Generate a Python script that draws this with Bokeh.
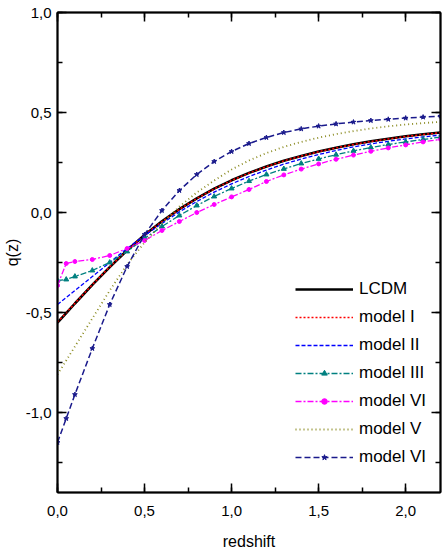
from bokeh.plotting import figure
from bokeh.embed import file_html
from bokeh.resources import INLINE
from bokeh.models import (LinearAxis, SingleIntervalTicker, CustomJSTickFormatter,
                          Legend, LegendItem, Range1d)

# ---- data ----
z = [0.0, 0.05, 0.1, 0.2, 0.3, 0.4, 0.5, 0.6, 0.7, 0.8, 0.9, 1.0, 1.1, 1.2,
     1.3, 1.4, 1.5, 1.6, 1.7, 1.8, 1.9, 2.0, 2.1, 2.2]

q_lcdm = [-0.550, -0.503, -0.455, -0.362, -0.273, -0.189, -0.113, -0.044, 0.017,
          0.071, 0.119, 0.161, 0.198, 0.230, 0.259, 0.283, 0.305, 0.324, 0.341,
          0.356, 0.369, 0.381, 0.391, 0.400]
q_model1 = [-0.548, -0.501, -0.454, -0.361, -0.272, -0.189, -0.113, -0.045, 0.016,
            0.070, 0.118, 0.160, 0.197, 0.229, 0.258, 0.282, 0.304, 0.323, 0.340,
            0.355, 0.368, 0.380, 0.390, 0.399]
q_model2 = [-0.460, -0.425, -0.390, -0.320, -0.250, -0.180, -0.115, -0.055, 0.003,
            0.055, 0.102, 0.143, 0.180, 0.212, 0.242, 0.267, 0.290, 0.310, 0.328,
            0.343, 0.356, 0.368, 0.378, 0.387]
q_model3 = [-0.340, -0.335, -0.320, -0.290, -0.250, -0.195, -0.130, -0.070, -0.015,
            0.035, 0.080, 0.120, 0.157, 0.190, 0.218, 0.245, 0.268, 0.289, 0.308,
            0.325, 0.340, 0.353, 0.365, 0.377]
q_model4 = [-0.365, -0.255, -0.245, -0.235, -0.215, -0.180, -0.140, -0.090, -0.045,
            0.000, 0.040, 0.078, 0.115, 0.155, 0.188, 0.217, 0.243, 0.266, 0.287,
            0.306, 0.323, 0.338, 0.353, 0.366]
q_model5 = [-0.810, -0.740, -0.670, -0.530, -0.390, -0.260, -0.150, -0.055, 0.030,
            0.100, 0.160, 0.215, 0.260, 0.297, 0.328, 0.353, 0.374, 0.392, 0.407,
            0.420, 0.431, 0.440, 0.447, 0.453]
q_model6 = [-1.150, -1.030, -0.910, -0.680, -0.460, -0.270, -0.110, 0.010, 0.110,
            0.190, 0.255, 0.305, 0.345, 0.375, 0.400, 0.418, 0.432, 0.443, 0.452,
            0.460, 0.466, 0.472, 0.477, 0.482]

labels = ["LCDM", "model I", "model II", "model III", "model VI", "model V", "model VI"]
x_title = "redshift"
y_title = "q(z)"

FONT = "Liberation Sans"

p = figure(width=443, height=554, x_range=Range1d(0, 2.2), y_range=Range1d(-1.4, 1.0),
           output_backend="svg", toolbar_location=None,
           min_border_left=57, min_border_right=3, min_border_top=12, min_border_bottom=62)
p.xgrid.visible = False
p.ygrid.visible = False
p.outline_line_color = "black"
p.outline_line_width = 1.5
p.background_fill_color = "white"
p.border_fill_color = "white"

fmt = CustomJSTickFormatter(code="return tick.toFixed(1).replace('.', ',');")
blank = CustomJSTickFormatter(code="return '';")


def style_axis(ax, labelled):
    ax.ticker = SingleIntervalTicker(interval=0.5, num_minor_ticks=2)
    ax.axis_line_width = 2
    ax.axis_line_color = "black"
    ax.major_tick_in = 9
    ax.major_tick_out = 0
    ax.minor_tick_in = 5
    ax.minor_tick_out = 0
    ax.major_tick_line_width = 1.5
    ax.minor_tick_line_width = 1.5
    ax.major_label_text_font = FONT
    ax.major_label_text_font_size = "15px"
    ax.major_label_text_color = "black"
    ax.axis_label_text_font = FONT
    ax.axis_label_text_font_size = "16px"
    ax.axis_label_text_font_style = "normal"
    ax.axis_label_text_color = "black"
    ax.formatter = fmt if labelled else blank
    if not labelled:
        ax.major_label_standoff = 0


style_axis(p.xaxis[0], True)
style_axis(p.yaxis[0], True)
p.xaxis[0].axis_label = x_title
p.xaxis[0].major_label_standoff = 13
p.xaxis[0].axis_label_standoff = 14
p.yaxis[0].axis_label = y_title
p.yaxis[0].major_label_standoff = 6
p.yaxis[0].axis_label_standoff = 2

top_ax = LinearAxis()
right_ax = LinearAxis()
style_axis(top_ax, False)
style_axis(right_ax, False)
p.add_layout(top_ax, "above")
p.add_layout(right_ax, "right")

r0 = p.line(z, q_lcdm, line_color="black", line_width=2.6)
r1 = p.line(z, q_model1, line_color="#ff0000", line_width=1.5, line_dash="2 2")
r2 = p.line(z, q_model2, line_color="#0000ff", line_width=1.3, line_dash="4 2")
r3 = p.line(z, q_model3, line_color="#008080", line_width=1.3, line_dash="6 2 2 2")
r3m = p.scatter(z, q_model3, marker="triangle", size=5, color="#008080")
r4 = p.line(z, q_model4, line_color="#ff00ff", line_width=1.3, line_dash="6 2 2 2")
r4m = p.scatter(z, q_model4, marker="circle", size=4, color="#ff00ff")
r5 = p.line(z, q_model5, line_color="#8a8a20", line_width=1.8, line_dash="1 3")
r6 = p.line(z, q_model6, line_color="#1a1a8c", line_width=1.5, line_dash="6 3")
r6m = p.scatter(z, q_model6, marker="star", size=5, color="#1a1a8c")

legend = Legend(items=[
    LegendItem(label=labels[0], renderers=[r0]),
    LegendItem(label=labels[1], renderers=[r1]),
    LegendItem(label=labels[2], renderers=[r2]),
    LegendItem(label=labels[3], renderers=[r3, r3m]),
    LegendItem(label=labels[4], renderers=[r4, r4m]),
    LegendItem(label=labels[5], renderers=[r5]),
    LegendItem(label=labels[6], renderers=[r6, r6m]),
], location=(238, 21))
legend.border_line_color = None
legend.background_fill_alpha = 0
legend.padding = 0
legend.margin = 0
legend.spacing = 0
legend.glyph_width = 58
legend.glyph_height = 14
legend.label_height = 28
legend.label_standoff = 6
legend.label_text_font = FONT
legend.label_text_font_size = "17px"
legend.label_text_color = "black"
p.add_layout(legend)

open("out.html", "w").write(file_html(p, INLINE))
